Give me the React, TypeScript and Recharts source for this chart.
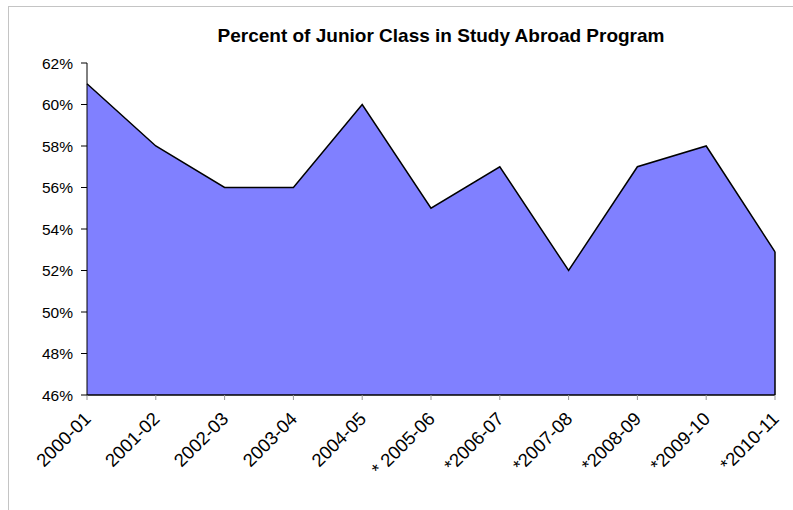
import React from 'react';
import { AreaChart, Area, XAxis, YAxis, ReferenceLine } from 'recharts';

const years = [
  '2000-01', '2001-02', '2002-03', '2003-04', '2004-05', '* 2005-06',
  '*2006-07', '*2007-08', '*2008-09', '*2009-10', '*2010-11',
];
const percents = [61, 58, 56, 56, 60, 55, 57, 52, 57, 58, 52.9];
const yTicks = [46, 48, 50, 52, 54, 56, 58, 60, 62];

const data = years.map((year, i) => ({ year, pct: percents[i] }));
const lastYear = years[years.length - 1];
const lastPct = percents[percents.length - 1];

const FONT = '"Liberation Sans", Arial, sans-serif';

const XTick = (props: any) => {
  const { x, y, payload } = props;
  return (
    <g transform={`translate(${x + 5},${y + 18})`}>
      <text textAnchor="end" transform="rotate(-45)" fontSize={18.5} fontFamily={FONT} fill="#000">
        {payload.value}
      </text>
    </g>
  );
};

export default function App() {
  return (
    <div
      style={{
        position: 'absolute',
        left: 8,
        top: 6,
        width: 784,
        height: 503,
        borderTop: '1px solid #c4c4c4',
        borderLeft: '1px solid #c4c4c4',
        background: '#fff',
      }}
    >
      <svg width={784} height={50} style={{ position: 'absolute', left: 0, top: 0 }}>
        <text x={432} y={35} textAnchor="middle" fontSize={19} fontWeight="bold" fontFamily={FONT} fill="#000">
          Percent of Junior Class in Study Abroad Program
        </text>
      </svg>
      <AreaChart
        width={784}
        height={503}
        data={data}
        margin={{ top: 56, right: 18, bottom: 0, left: 0 }}
        style={{ position: 'absolute', left: 0, top: 0 }}
      >
        <XAxis
          dataKey="year"
          height={115}
          axisLine={{ stroke: '#000', strokeWidth: 1.5 }}
          tickLine={{ stroke: '#999' }}
          tickSize={5}
          interval={0}
          tick={<XTick />}
        />
        <YAxis
          width={78}
          domain={[46, 62]}
          ticks={yTicks}
          interval={0}
          tickFormatter={(v: number) => `${v}%`}
          axisLine={{ stroke: '#000' }}
          tickLine={{ stroke: '#000' }}
          tickSize={6}
          tickMargin={8}
          tick={{ fontSize: 15.5, fontFamily: FONT, fill: '#000' }}
        />
        <Area
          type="linear"
          dataKey="pct"
          stroke="#000"
          strokeWidth={1.5}
          fill="#8080ff"
          fillOpacity={1}
          dot={false}
          activeDot={false}
          isAnimationActive={false}
        />
        <ReferenceLine
          segment={[{ x: lastYear, y: 46 }, { x: lastYear, y: lastPct }]}
          stroke="#000"
          strokeWidth={1.5}
        />
      </AreaChart>
    </div>
  );
}
